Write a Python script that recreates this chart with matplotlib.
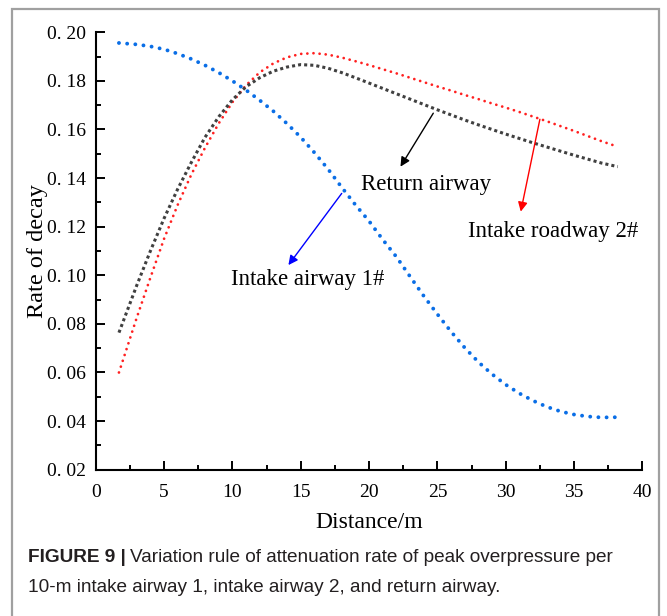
import matplotlib
matplotlib.use("Agg")
import matplotlib.pyplot as plt
from matplotlib.patches import Rectangle
from matplotlib.ticker import MultipleLocator, FuncFormatter

# --- values (distance in m, rate of decay) ---
distance = [1.7] + list(range(3, 38)) + [38.2]

intake_airway_1 = [
    0.1956, 0.1950, 0.1942, 0.1930, 0.1912, 0.1890, 0.1864, 0.1834, 0.1800,
    0.1762, 0.1720, 0.1675, 0.1624, 0.1568, 0.1505, 0.1437, 0.1362, 0.1290,
    0.1223, 0.1147, 0.1076, 0.0995, 0.0915, 0.0840, 0.0768, 0.0702, 0.0643,
    0.0593, 0.0550, 0.0514, 0.0484, 0.0459, 0.0440, 0.0427, 0.0419, 0.0415,
    0.0416,
]
intake_roadway_2 = [
    0.0600, 0.0825, 0.0990, 0.1150, 0.1290, 0.1415, 0.1525, 0.1625, 0.1712,
    0.1782, 0.1835, 0.1872, 0.1897, 0.1911, 0.1914, 0.1908, 0.1896, 0.1881,
    0.1865, 0.1848, 0.1831, 0.1813, 0.1795, 0.1777, 0.1760, 0.1742, 0.1725,
    0.1707, 0.1690, 0.1672, 0.1653, 0.1634, 0.1614, 0.1594, 0.1573, 0.1552,
    0.1529,
]
return_airway = [
    0.0764, 0.0958, 0.1100, 0.1234, 0.1355, 0.1465, 0.1568, 0.1652, 0.1722,
    0.1776, 0.1813, 0.1840, 0.1857, 0.1867, 0.1864, 0.1852, 0.1834, 0.1813,
    0.1791, 0.1769, 0.1747, 0.1725, 0.1703, 0.1681, 0.1660, 0.1639, 0.1619,
    0.1600, 0.1581, 0.1563, 0.1545, 0.1528, 0.1511, 0.1494, 0.1478, 0.1462,
    0.1447,
]

SERIF = ["Liberation Serif", "DejaVu Serif"]
SANS = ["Liberation Sans", "DejaVu Sans"]

fig = plt.figure(figsize=(6.67, 6.16), dpi=100)
ax = fig.add_axes([0.1435, 0.2375, 0.8196, 0.7101])

# dotted curves, like the Origin export
ax.plot(distance, intake_airway_1, color="#0a6ee6", lw=2.8,
        linestyle=(0, (0.01, 2.1)), dash_capstyle="round")
ax.plot(distance, intake_roadway_2, color="#ff2020", lw=2.0,
        linestyle=(0, (0.01, 2.2)), dash_capstyle="round")
ax.plot(distance, return_airway, color="#404040", lw=2.2,
        linestyle=(0, (1, 1)), dash_capstyle="butt")

# labels with arrows
arrow = dict(arrowstyle="-|>", lw=1.0, mutation_scale=14, shrinkA=0, shrinkB=0)
ax.annotate("", xy=(22.3, 0.1447), xytext=(24.7, 0.1667),
            arrowprops={**arrow, "color": "black"})
ax.text(24.16, 0.1375, "Return airway", family=SERIF, fontsize=16.5,
        ha="center", va="center")
ax.annotate("", xy=(31.1, 0.1262), xytext=(32.5, 0.1642),
            arrowprops={**arrow, "color": "red"})
ax.text(39.67, 0.1182, "Intake roadway 2#", family=SERIF, fontsize=16.5,
        ha="right", va="center")
ax.annotate("", xy=(14.1, 0.1042), xytext=(18.0, 0.1337),
            arrowprops={**arrow, "color": "blue"})
ax.text(15.53, 0.0981, "Intake airway 1#", family=SERIF, fontsize=16.5,
        ha="center", va="center")

ax.set_xlim(0, 40)
ax.set_ylim(0.02, 0.20)
ax.xaxis.set_major_locator(MultipleLocator(5))
ax.xaxis.set_minor_locator(MultipleLocator(2.5))
ax.yaxis.set_major_locator(MultipleLocator(0.02))
ax.yaxis.set_minor_locator(MultipleLocator(0.01))
ax.yaxis.set_major_formatter(FuncFormatter(lambda v, p: f"{v:.2f}".replace(".", ". ")))
ax.xaxis.set_major_formatter(FuncFormatter(lambda v, p: f"{v:.0f}"))

ax.spines[["top", "right"]].set_visible(False)
for s in ("left", "bottom"):
    ax.spines[s].set_linewidth(1.5)
ax.tick_params(which="major", direction="in", length=6.5, width=1.4, labelsize=14)
ax.tick_params(axis="x", which="major", pad=10)
ax.tick_params(axis="y", which="major", pad=7)
ax.tick_params(which="minor", direction="in", length=3.6, width=1.4)
for lab in ax.get_xticklabels() + ax.get_yticklabels():
    lab.set_family(SERIF)

ax.set_xlabel("Distance/m", family=SERIF, fontsize=17, labelpad=8)
ax.set_ylabel("Rate of decay", family=SERIF, fontsize=17.5, labelpad=-1)

# grey frame round the figure panel
fig.patches.append(Rectangle((0.018, -0.05), 0.970, 1.036, transform=fig.transFigure,
                             fill=False, edgecolor="#a0a0a0", lw=1.6))

# caption
cap = fig.text(0.042, 0.0955, "FIGURE 9 |", family=SANS, fontsize=13.7,
               weight="bold", color="#231f20", va="center")
fig.canvas.draw()
bb = cap.get_window_extent()
x0 = (bb.x1 + 4) / fig.bbox.width
fig.text(x0, 0.0955, "Variation rule of attenuation rate of peak overpressure per",
         family=SANS, fontsize=13.7, color="#231f20", va="center")
fig.text(0.042, 0.0455, "10-m intake airway 1, intake airway 2, and return airway.",
         family=SANS, fontsize=13.7, color="#231f20", va="center")

fig.savefig("out.png", dpi=100)
